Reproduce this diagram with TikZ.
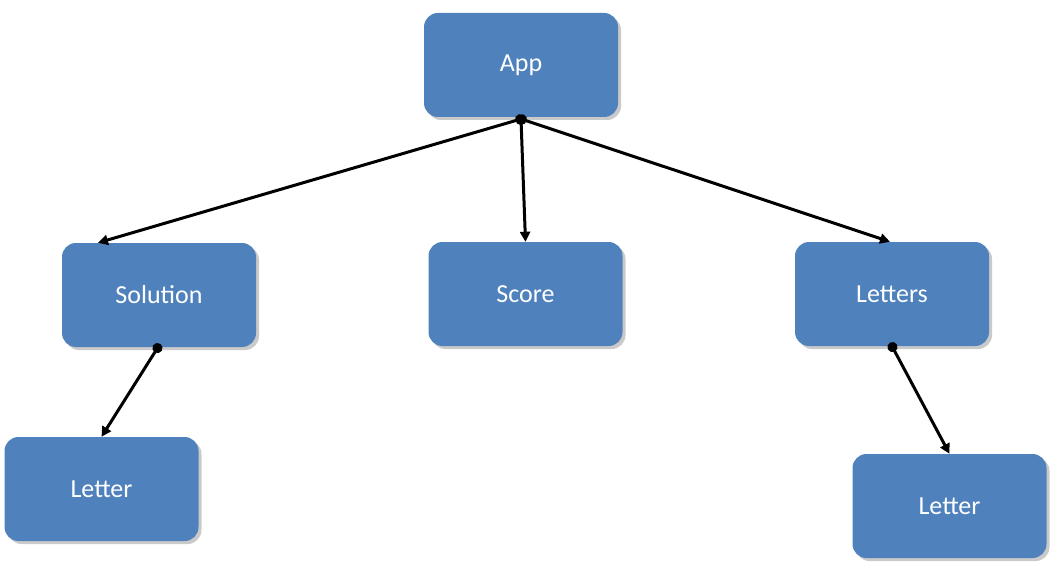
\documentclass[tikz,border=0pt]{standalone}
\usepackage{fontspec}
\setmainfont{Carlito}
\usetikzlibrary{arrows.meta,shadows}
\definecolor{boxblue}{HTML}{4F81BD}
\tikzset{
  box/.style={draw=none, fill=boxblue, rounded corners=14pt, minimum width=194pt, minimum height=104pt,
    text=white, font=\fontsize{26}{30}\selectfont,
    drop shadow={shadow xshift=3pt, shadow yshift=-3pt, opacity=0.35, fill=black!60}},
  link/.style={line width=3pt, {Circle[length=10pt]}-{Triangle[width=10pt,length=10pt]}, shorten <=-4pt}
}
\begin{document}
\begin{tikzpicture}[x=1pt,y=-1pt]
\useasboundingbox (0,0) rectangle (1051,564);
\node[box] (app) at (521,65) {App};
\node[box] (sol) at (159,295) {Solution};
\node[box] (score) at (525.5,294) {Score};
\node[box] (letters) at (892,294) {Letters};
\node[box] (l1) at (101.5,489) {Letter};
\node[box] (l2) at (949.5,506) {Letter};
\coordinate (appb) at (521,119);
\draw[link] (appb) -- (sol.north west -| 98,0);
\draw[link] (appb) -- (score.north);
\draw[link] (appb) -- ([xshift=-2pt]letters.north);
\draw[link] ([xshift=-1pt]sol.south) -- (l1.north);
\draw[link] (letters.south) -- (l2.north);
\end{tikzpicture}
\end{document}
